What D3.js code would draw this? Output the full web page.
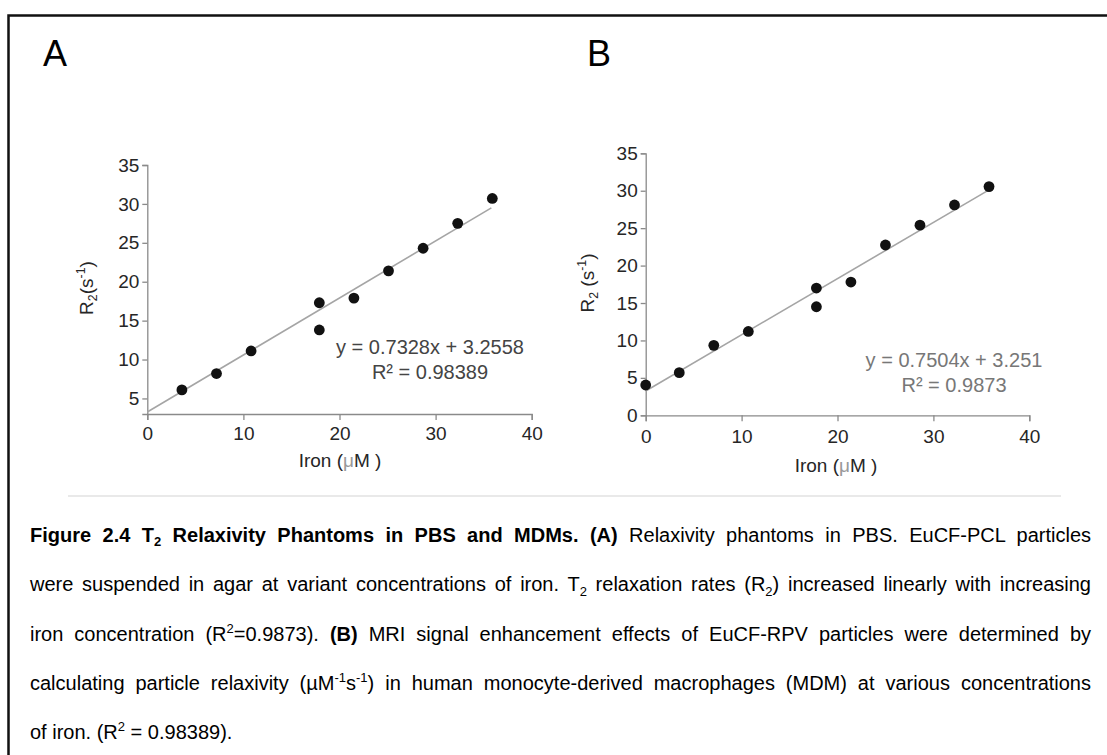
<!DOCTYPE html>
<html>
<head>
<meta charset="utf-8">
<script src="https://cdn.jsdelivr.net/npm/d3@7"></script>
<style>
  body { margin: 0; background: #fff; }
  svg { display: block; font-family: "Liberation Sans", Arial, sans-serif; }
</style>
</head>
<body>
<div id="fig"></div>
<script>
// panel A: relaxivity phantoms in PBS
const ironA = [3.6, 7.2, 10.8, 17.9, 17.9, 21.5, 25.1, 28.7, 32.3, 35.9];
const r2A   = [6.1, 8.2, 11.1, 17.3, 13.8, 17.9, 21.4, 24.3, 27.5, 30.7];
const fitA  = [0.7328, 3.2558];           // slope, intercept
const eqA   = ["y = 0.7328x + 3.2558", "R\u00B2 = 0.98389"];

// panel B: MDMs
const ironB = [0, 3.5, 7.1, 10.7, 17.8, 17.8, 21.4, 25.0, 28.6, 32.2, 35.8];
const r2B   = [4.05, 5.7, 9.35, 11.2, 17.0, 14.5, 17.8, 22.75, 25.4, 28.1, 30.55];
const fitB  = [0.7504, 3.251];
const eqB   = ["y = 0.7504x + 3.251", "R\u00B2 = 0.9873"];

const fitRange = [0, 35.8];
const xTicks = [0, 10, 20, 30, 40];
const yTicksA = [5, 10, 15, 20, 25, 30, 35];
const yTicksB = [0, 5, 10, 15, 20, 25, 30, 35];

// caption, one entry per printed line (b = bold, s = sub/sup)
const caption = [
  [{t: "Figure 2.4 T", b: 1}, {t: "2", b: 1, s: "sub"}, {t: " Relaxivity Phantoms in PBS and MDMs. (A)", b: 1},
   {t: " Relaxivity phantoms in PBS. EuCF-PCL particles"}],
  [{t: "were suspended in agar at variant concentrations of iron. T"}, {t: "2", s: "sub"},
   {t: " relaxation rates (R"}, {t: "2", s: "sub"}, {t: ") increased linearly with increasing"}],
  [{t: "iron concentration (R"}, {t: "2", s: "sup"}, {t: "=0.9873). "}, {t: "(B)", b: 1},
   {t: " MRI signal enhancement effects of EuCF-RPV particles were determined by"}],
  [{t: "calculating particle relaxivity (\u00B5M"}, {t: "-1", s: "sup"}, {t: "s"}, {t: "-1", s: "sup"},
   {t: ") in human monocyte-derived macrophages (MDM) at various concentrations"}],
  [{t: "of iron. (R"}, {t: "2", s: "sup"}, {t: " = 0.98389)."}]
];

const W = 1107, H = 755;
const svg = d3.select("#fig").append("svg").attr("width", W).attr("height", H);

// frame (only top and left edges are in view)
svg.append("path").attr("d", `M8.5,${H} V15.5 H${W}`)
   .attr("fill", "none").attr("stroke", "#111").attr("stroke-width", 2.5);

svg.append("text").attr("x", 43).attr("y", 66).attr("font-size", 36).text("A");
svg.append("text").attr("x", 587).attr("y", 66).attr("font-size", 36).text("B");

// faint bottom edge of the pasted chart images
svg.append("line").attr("x1", 68).attr("x2", 1061).attr("y1", 496).attr("y2", 496)
   .attr("stroke", "#e2e2e2").attr("stroke-width", 1.5);

function richText(sel, segs, size) {
  let off = 0;
  segs.forEach(s => {
    const target = s.s === "sub" ? size * 0.22 : s.s === "sup" ? -size * 0.4 : 0;
    const ts = sel.append("tspan").attr("dy", target - off).text(s.t);
    off = target;
    if (s.s) ts.attr("font-size", size * 0.65);
    if (s.b) ts.attr("font-weight", "bold");
    if (s.fill) ts.attr("fill", s.fill);
  });
  return sel;
}

function panel(cfg) {
  const x = d3.scaleLinear().domain([0, 40]).range(cfg.xr);
  const y = d3.scaleLinear().domain(cfg.yd).range(cfg.yr);
  const g = svg.append("g");
  const axisCol = "#8a8a8a", txtCol = "#262626";

  const gx = g.append("g").attr("transform", `translate(0,${cfg.yr[0]})`);
  gx.call(d3.axisBottom(x).tickValues(cfg.xMinor).tickSize(3).tickFormat(""));
  gx.call(d3.axisBottom(x).tickValues(xTicks).tickSize(6).tickPadding(cfg.xPad).tickFormat(d3.format("d")));
  const gy = g.append("g").attr("transform", `translate(${cfg.xr[0]},0)`);
  gy.call(d3.axisLeft(y).tickValues(d3.range(cfg.yd[0] === 0 ? 2.5 : 5, 35, 2.5).filter(v => v % 5)).tickSize(3).tickFormat(""));
  gy.call(d3.axisLeft(y).tickValues(cfg.yTicks).tickSize(5).tickPadding(3).tickFormat(d3.format("d")));
  g.selectAll(".domain, .tick line").attr("stroke", axisCol).attr("stroke-width", 1.3);
  g.selectAll(".tick text").attr("font-size", 19).attr("fill", txtCol)
   .attr("font-family", "Liberation Sans, Arial, sans-serif");

  // fit line
  g.append("line")
    .attr("x1", x(fitRange[0])).attr("y1", y(cfg.fit[0] * fitRange[0] + cfg.fit[1]))
    .attr("x2", x(fitRange[1])).attr("y2", y(cfg.fit[0] * fitRange[1] + cfg.fit[1]))
    .attr("stroke", "#a5a5a5").attr("stroke-width", 1.6);

  g.selectAll("circle.pt").data(cfg.xs).enter().append("circle")
    .attr("class", "pt")
    .attr("cx", d => x(d)).attr("cy", (d, i) => y(cfg.ys[i]))
    .attr("r", 5.4).attr("fill", "#111");

  cfg.eq.forEach((t, i) => {
    g.append("text").attr("x", cfg.eqPos[0]).attr("y", cfg.eqPos[1] + i * 24.5)
      .attr("text-anchor", "middle").attr("font-size", 20).attr("fill", cfg.eqCol).text(t);
  });

  richText(g.append("text").attr("x", cfg.xLab[0]).attr("y", cfg.xLab[1])
      .attr("text-anchor", "middle").attr("font-size", 19).attr("fill", txtCol),
    [{t: "Iron ("}, {t: "\u03BC", fill: "#999"}, {t: "M )"}], 19);

  richText(g.append("text")
      .attr("transform", `translate(${cfg.yLab[0]},${cfg.yLab[1]}) rotate(-90)`)
      .attr("text-anchor", "middle").attr("font-size", 19).attr("fill", txtCol),
    [{t: "R"}, {t: "2", s: "sub"}, {t: cfg.gap + "(s"}, {t: "-1", s: "sup"}, {t: ")"}], 19);
}

panel({xr: [147.3, 531.7], yr: [414, 165], yd: [3, 35], yTicks: yTicksA,
       xMinor: d3.range(0, 41, 2), xPad: 7, fit: fitA, xs: ironA, ys: r2A,
       eq: eqA, eqPos: [430, 354], eqCol: "#444", xLab: [340, 467], yLab: [93, 288], gap: ""});
panel({xr: [645.7, 1029.3], yr: [415.3, 153.3], yd: [0, 35], yTicks: yTicksB,
       xMinor: d3.range(0, 41, 5), xPad: 8, fit: fitB, xs: ironB, ys: r2B,
       eq: eqB, eqPos: [954, 367], eqCol: "#777", xLab: [836, 472], yLab: [594, 283], gap: " "});

// caption, justified between x=30 and x=1091
const capX = 30, capW = 1061, capY = 542, capStep = 49.3, capSize = 20;
caption.forEach((segs, i) => {
  const t = richText(svg.append("text").attr("x", capX).attr("y", capY + i * capStep)
      .attr("font-size", capSize).attr("fill", "#000"), segs, capSize);
  if (i < caption.length - 1) {
    const w = t.node().getComputedTextLength();
    const n = segs.map(s => s.t).join("").split(" ").length - 1;
    t.attr("word-spacing", (capW - w) / n);
  }
});
</script>
</body>
</html>
